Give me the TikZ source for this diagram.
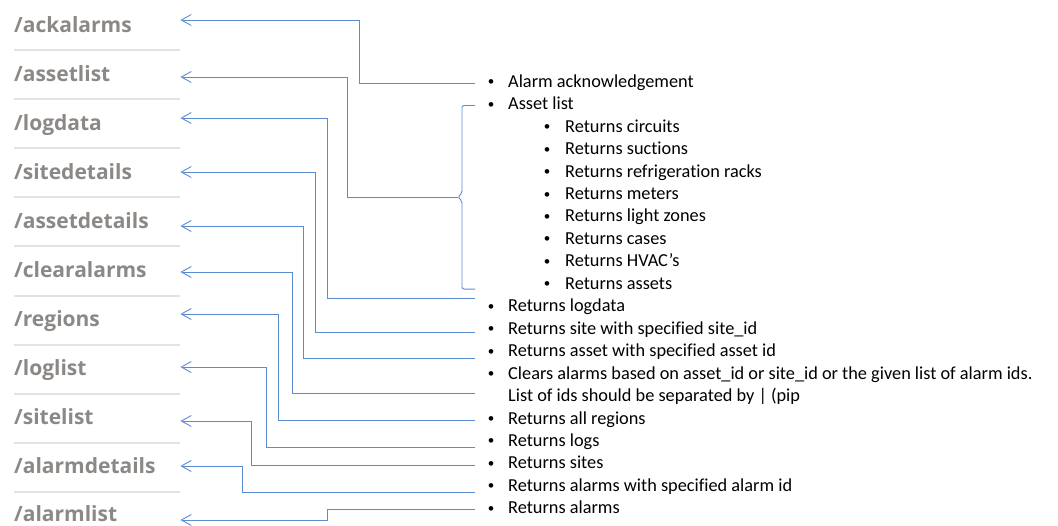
\documentclass[tikz,border=0pt]{standalone}
\usepackage{fontspec}
\setmainfont{Carlito}[Ligatures=NoCommon]
\newfontfamily\routefont{Open Sans}
\usepackage{tikz}
\usetikzlibrary{arrows.meta,positioning,calc}

\definecolor{routegray}{HTML}{8C8885}
\definecolor{rulegray}{HTML}{E3E3E3}
\definecolor{wireblue}{HTML}{5B8BD0}

% bullet rows on the right
\newcommand{\dotmark}{\raisebox{1.5pt}{\fontsize{13}{13}\selectfont\textbullet}}
\newcommand{\bul}[1]{\makebox[33pt][l]{\hspace{12.75pt}\dotmark}#1}
\newcommand{\subbul}[1]{\makebox[90pt][l]{\hspace{68.75pt}\dotmark}#1}

\begin{document}
\begin{tikzpicture}[
    x=1pt, y=-1pt,
    route/.style={
        anchor=west,
        inner sep=0pt,
        text width=166pt,
        text height=15pt,
        text depth=4pt,
        font={\routefont\bfseries\fontsize{21}{25}\selectfont},
        text=routegray
    },
    item/.style={
        anchor=west,
        inner sep=0pt,
        text height=13pt,
        text depth=4.5pt,
        font={\fontsize{18.3}{22.45}\selectfont}
    },
    sep/.style={
        draw=rulegray,
        line width=2pt
    },
    wire/.style={
        draw=wireblue,
        line width=0.9pt
    },
    link/.style={
        wire,
        -{Straight Barb[length=10pt,width=11pt]}
    }
]
\useasboundingbox (0,0) rectangle (1058,525);

% Routes
\node [route] (ackalarms) at (14,27) {/ackalarms};
\node [route] (assetlist) at (14,76) {/assetlist};
\node [route] (logdata) at (14,125) {/logdata};
\node [route] (sitedetails) at (14,174) {/sitedetails};
\node [route] (assetdetails) at (14,223) {/assetdetails};
\node [route] (clearalarms) at (14,272) {/clearalarms};
\node [route] (regions) at (14,321) {/regions};
\node [route] (loglist) at (14,370) {/loglist};
\node [route] (sitelist) at (14,419) {/sitelist};
\node [route] (alarmdetails) at (14,468) {/alarmdetails};
\node [route] (alarmlist) at (14,516) {/alarmlist};

\foreach \y in {50,99,148,197,246,296,345,394,443,492}
    \draw [sep] (14,\y) -- (180,\y);

% Descriptions
\node [item] (r-ack) at (475,83) {\bul{Alarm acknowledgement}};
\node [item] (r-assetlist) at (475,105.5) {\bul{Asset list}};
\node [item] (r-sub1) at (475,127.9) {\subbul{Returns circuits}};
\node [item] (r-sub2) at (475,150.4) {\subbul{Returns suctions}};
\node [item] (r-sub3) at (475,172.8) {\subbul{Returns refrigeration racks}};
\node [item] (r-sub4) at (475,195.3) {\subbul{Returns meters}};
\node [item] (r-sub5) at (475,217.7) {\subbul{Returns light zones}};
\node [item] (r-sub6) at (475,240.2) {\subbul{Returns cases}};
\node [item] (r-sub7) at (475,262.6) {\subbul{Returns HVAC’s}};
\node [item] (r-sub8) at (475,285.1) {\subbul{Returns assets}};
\node [item] (r-logdata) at (475,307.5) {\bul{Returns logdata}};
\node [item] (r-site) at (475,330) {\bul{Returns site with specified site\_id}};
\node [item] (r-asset) at (475,352.4) {\bul{Returns asset with specified asset id}};
\node [item] (r-clear) at (475,374.9) {\bul{Clears alarms based on asset\_id or site\_id or the given list of alarm ids.}};
\node [item] (r-clear-b) at (475,397.3) {\hspace*{33pt}List of ids should be separated by | (pip};
\node [item] (r-regions) at (475,419.8) {\bul{Returns all regions}};
\node [item] (r-logs) at (475,442.2) {\bul{Returns logs}};
\node [item] (r-sites) at (475,464.7) {\bul{Returns sites}};
\node [item] (r-alarmid) at (475,487.1) {\bul{Returns alarms with specified alarm id}};
\node [item] (r-alarms) at (475,509.6) {\bul{Returns alarms}};

% Brace round the asset list
\coordinate (brace-tip) at (458,197);
\draw [wire, rounded corners=2pt] (r-assetlist.west) -| (462,193) -- (brace-tip) -- (462,201) |- ([yshift=-4pt]r-sub8.west);

% Paths
\draw [link] (r-ack.west) -- ++(-116,0) |- ([yshift=7pt]ackalarms.east);
\draw [link] (brace-tip) -- ++(-111,0) |- ([yshift=-1pt]assetlist.east);
\draw [link] ([yshift=9pt]r-logdata.west) -- ++(-148,0) |- ([yshift=7pt]logdata.east);
\draw [link] ([yshift=-2pt]r-site.west) -- ++(-160,0) |- ([yshift=2pt]sitedetails.east);
\draw [link] ([yshift=-6.5pt]r-asset.west) -- ++(-172,0) |- ([yshift=-3pt]assetdetails.east);
\draw [link] ([yshift=-19pt]r-clear.west) -- ++(-183,0) |- (clearalarms.east);
\draw [link] ([yshift=-1pt]r-regions.west) -- ++(-197,0) |- ([yshift=7pt]regions.east);
\draw [link] ([yshift=-5pt]r-logs.west) -- ++(-209,0) |- ([yshift=3pt]loglist.east);
\draw [link] ([yshift=-1pt]r-sites.west) -- ++(-224,0) |- ([yshift=-2pt]sitelist.east);
\draw [link] ([yshift=-5pt]r-alarmid.west) -- ++(-233,0) |- ([yshift=2pt]alarmdetails.east);
\draw [link] (r-alarms.west) -- ++(-148,0) |- ([yshift=-4pt]alarmlist.east);

\end{tikzpicture}
\end{document}
